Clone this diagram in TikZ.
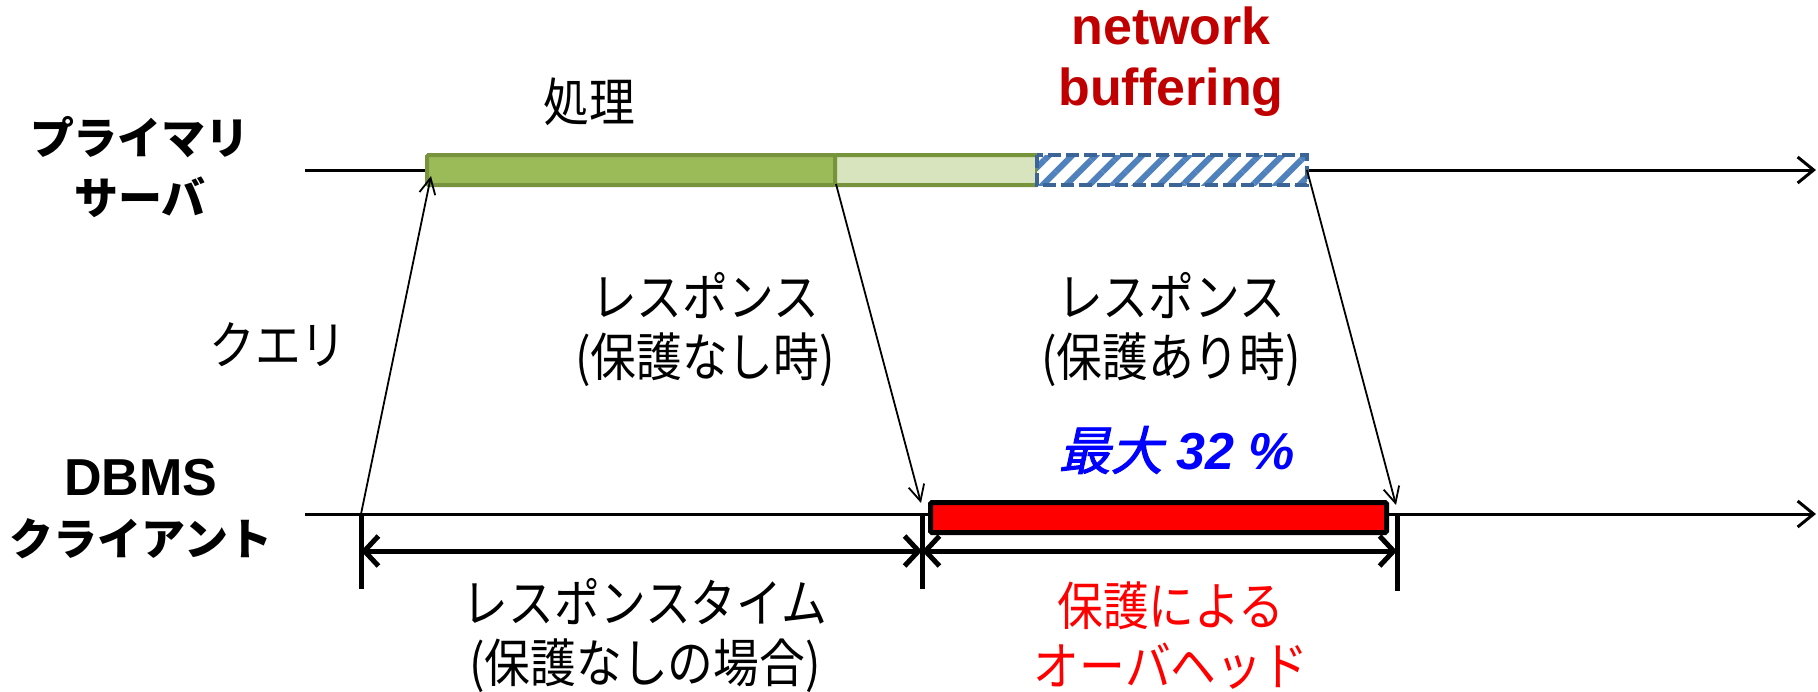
\documentclass[tikz,border=0pt]{standalone}
\usepackage{fontspec}
\setmainfont{Liberation Sans}
\newfontfamily\jpside{Noto Sans CJK JP}
\newfontfamily\jpmid[FakeStretch=0.88]{Noto Sans CJK JP}
\newfontfamily\jpbi[FakeSlant=0.22,FakeBold=1.8]{Noto Sans CJK JP}
\usetikzlibrary{arrows.meta,patterns.meta}
\definecolor{olive}{HTML}{77933C}
\definecolor{procfill}{HTML}{9BBB59}
\definecolor{lightfill}{HTML}{D7E4BD}
\definecolor{hatchblue}{HTML}{3B6497}
\definecolor{stripe}{HTML}{4F81BD}
\definecolor{darkred}{HTML}{C00000}
\tikzset{
  timeline/.style={line width=3pt,-{Straight Barb[length=16pt,width=26pt,line width=3pt]}},
  msg/.style={line width=1.8pt,-{Straight Barb[length=16pt,width=16pt,line width=1.8pt]}},
  dim/.style={line width=5pt,{Straight Barb[length=14pt,width=30pt,line width=5pt]}-{Straight Barb[length=14pt,width=30pt,line width=5pt]}},
  tick/.style={line width=5pt},
  bar/.style={draw=olive,line width=4pt,inner sep=0pt,outer sep=0pt,anchor=north west,minimum height=30pt,rounded corners=1.5pt},
  side/.style={font=\jpside\bfseries\fontsize{44}{60}\selectfont,align=center,inner sep=0pt},
  lbl/.style={font=\jpmid\fontsize{52}{60}\selectfont,align=center,inner sep=0pt},
}
\begin{document}
\begin{tikzpicture}[x=1pt,y=-1pt]
\useasboundingbox (0,0) rectangle (1818,691);
% timelines
\coordinate (t1s) at (305,170);
\coordinate (t1e) at (1816,170);
\coordinate (t2s) at (305,514);
\coordinate (t2e) at (1816,514);
\draw[timeline] (t1s) -- (t1e);
\draw[timeline] (t2s) -- (t2e);
% bars
\node[bar,fill=procfill,minimum width=408pt] (proc) at (427,155) {};
\node[bar,fill=lightfill,minimum width=202pt] (wait) at (835,155) {};
\node[inner sep=0pt,outer sep=0pt,anchor=north west,minimum height=30pt,minimum width=270pt,
      preaction={fill=white},
      pattern={Lines[angle=45,distance=16.5pt,line width=6pt]},pattern color=stripe] (buf) at (1037,155) {};
\draw[hatchblue,line width=4pt,dash pattern=on 13pt off 5pt] (buf.north west) rectangle (buf.south east);
\node[draw=black,fill=red,line width=5pt,inner sep=0pt,anchor=north west,minimum width=456pt,minimum height=30pt,rounded corners=1.5pt] (over) at (928,500) {};
% ticks
\coordinate (k1a) at (361,514); \coordinate (k1b) at (361,589);
\coordinate (k2a) at (922,514); \coordinate (k2b) at (922,589);
\coordinate (k3a) at (1397,514); \coordinate (k3b) at (1397,591);
\draw[tick] (k1a) -- (k1b);
\draw[tick] (k2a) -- (k2b);
\draw[tick] (k3a) -- (k3b);
\coordinate (d1) at (361,551); \coordinate (d2) at (922,551); \coordinate (d3) at (1397,551);
\draw[dim] (d1) -- (d2);
\draw[dim] (d2) -- (d3);
% messages
\coordinate (qs) at (361,514); \coordinate (qe) at (431,176);
\draw[msg] (qs) -- (qe);
\coordinate (r1s) at (836,184); \coordinate (r1e) at (921,503);
\draw[msg] (r1s) -- (r1e);
\coordinate (r2s) at (1307,170); \coordinate (r2e) at (1396,505);
\draw[msg] (r2s) -- (r2e);
% labels
\node[side] (prim) at (140,167) {プライマリ\\サーバ};
\node[side] (cli) at (141,509) {{\rmfamily\bfseries\fontsize{52}{60}\selectfont DBMS}\\クライアント};
\node[lbl] (shori) at (589,102) {処理};
\node[font=\bfseries\fontsize{52}{61}\selectfont,text=darkred,align=center,inner sep=0pt] (nb) at (1171,62) {network\\buffering};
\node[lbl] (query) at (278,345) {クエリ};
\node[lbl] (resp1) at (705,330) {レスポンス\\(保護なし時)};
\node[lbl] (resp2) at (1171,330) {レスポンス\\(保護あり時)};
\node[inner sep=0pt,text=blue] (max) at (1177,450) {\jpbi\fontsize{52}{60}\selectfont 最大\hspace{14pt}\rmfamily\bfseries\itshape 32 \%};
\node[lbl] (rt) at (645,636) {レスポンスタイム\\(保護なしの場合)};
\node[lbl,text=red] (oh) at (1171,636) {保護による\\オーバヘッド};
\end{tikzpicture}
\end{document}
